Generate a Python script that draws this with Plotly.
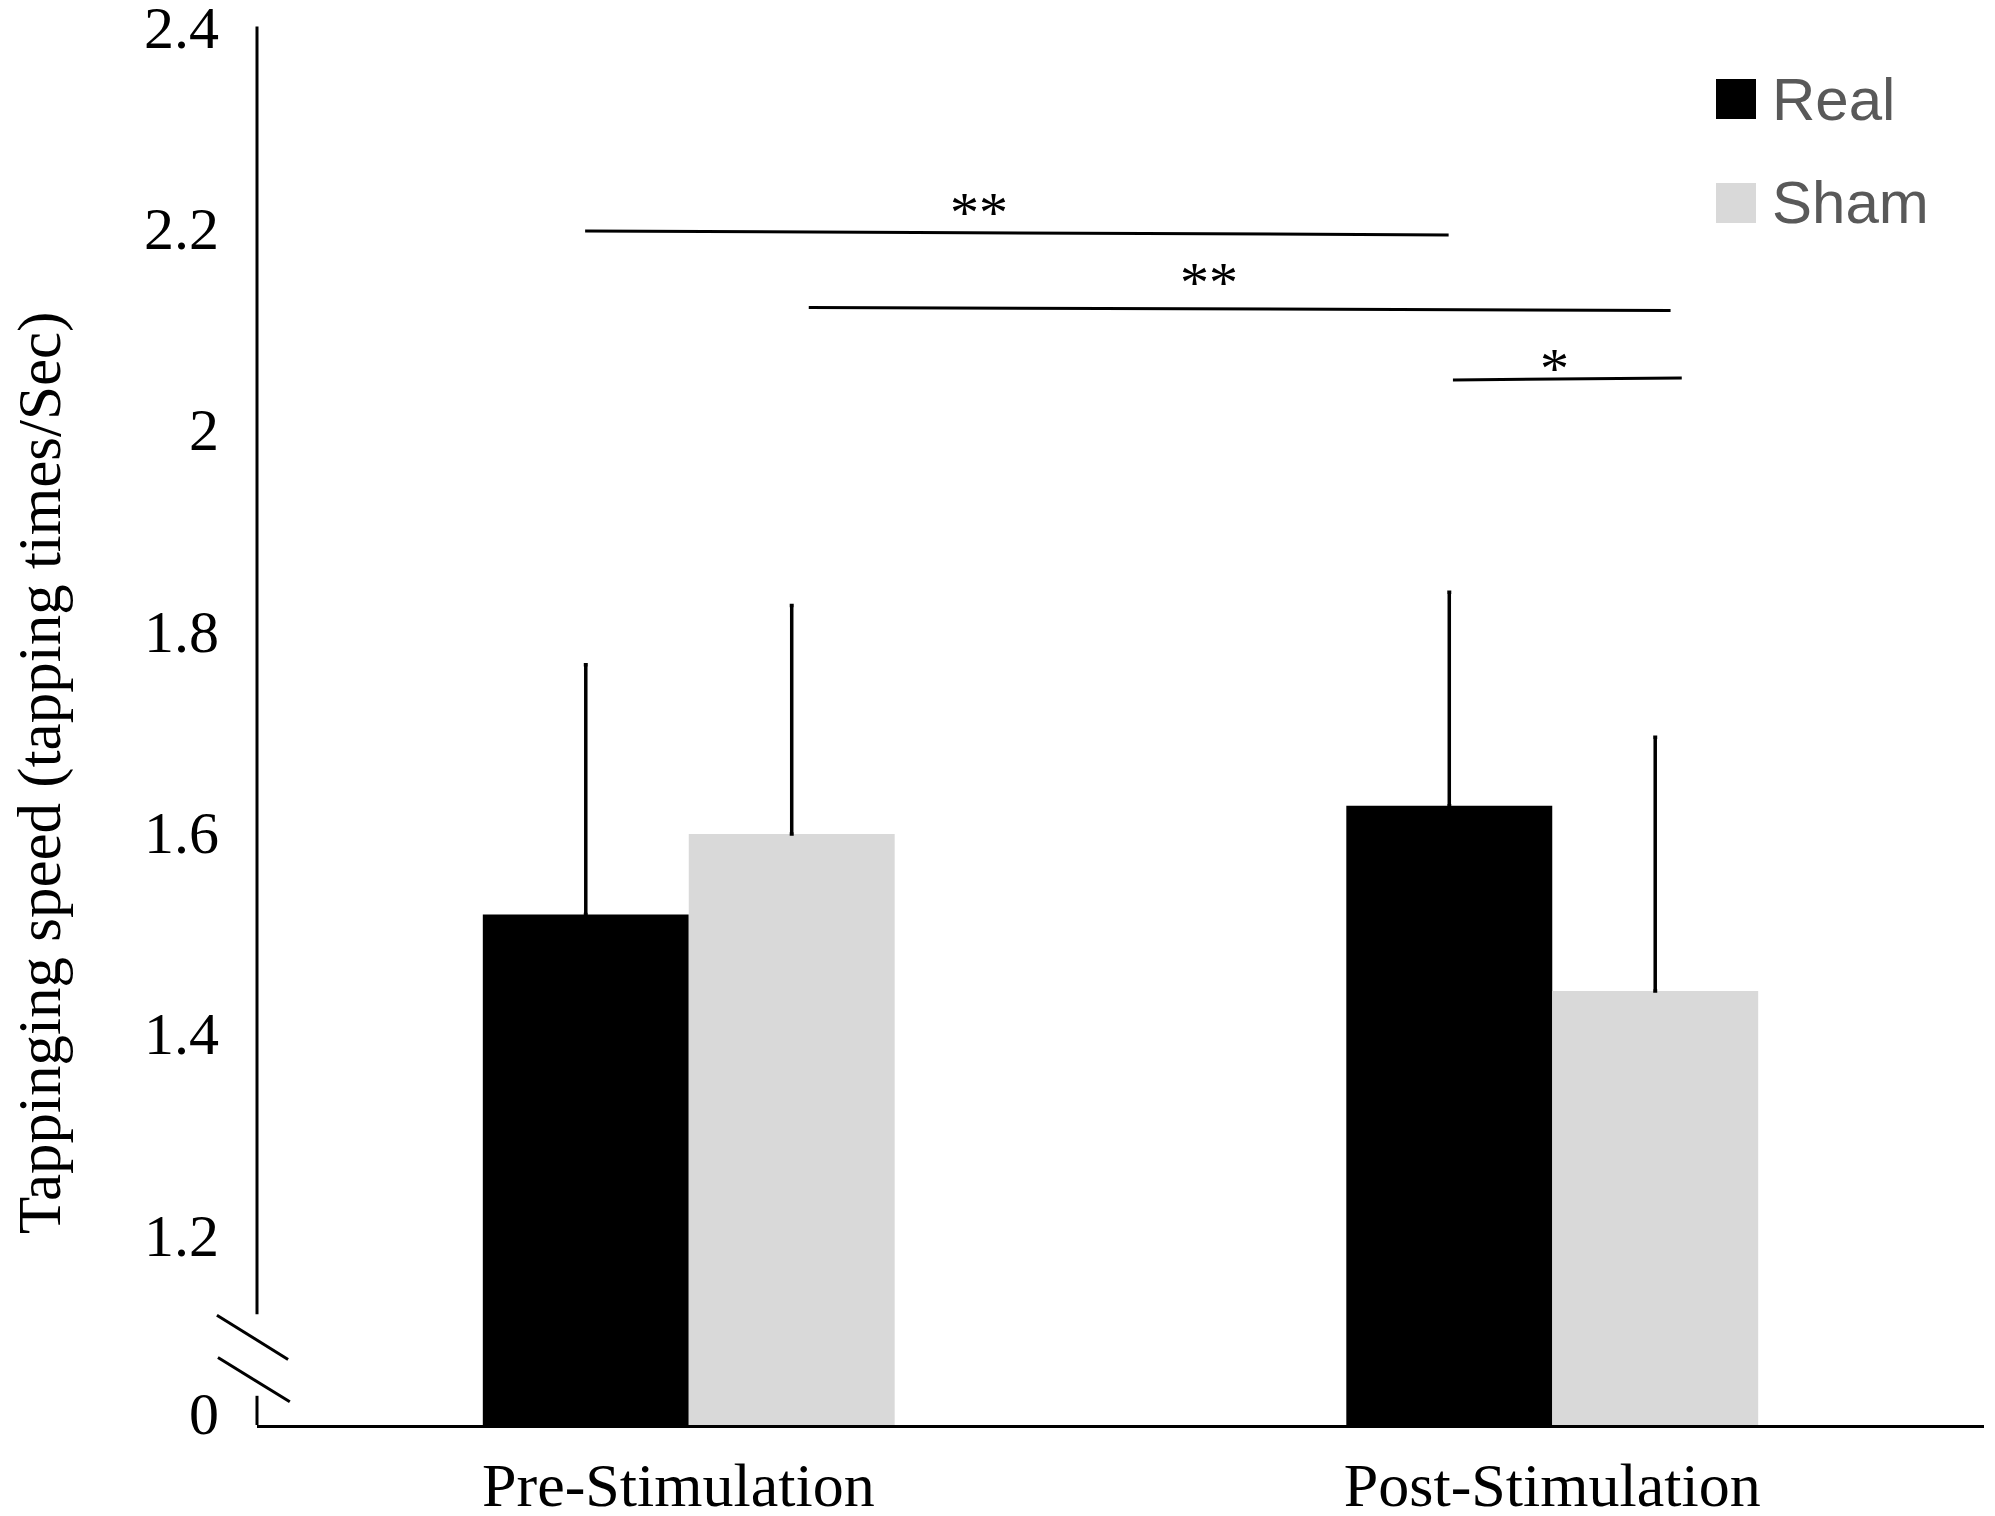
import plotly.graph_objects as go

# ---- data ----
groups = ["Pre-Stimulation", "Post-Stimulation"]
group_x = [0, 1]
real_mean = [1.518, 1.626]
sham_mean = [1.598, 1.442]
real_err = [0.248, 0.212]
sham_err = [0.227, 0.252]
series_names = ["Real", "Sham"]
series_colors = ["#000000", "#d9d9d9"]

# y tick labels (broken axis: the "0" label sits just above the base)
ytick_vals = [1.023, 1.2, 1.4, 1.6, 1.8, 2.0, 2.2, 2.4]
ytick_text = ["0", "1.2", "1.4", "1.6", "1.8", "2", "2.2", "2.4"]

# significance brackets (data coords)
sig_x0 = [-0.120, 0.139, 0.885]
sig_x1 = [0.880, 1.137, 1.150]
sig_y0 = [2.197, 2.121, 2.049]
sig_y1 = [2.193, 2.118, 2.051]
sig_label = ["**", "**", "*"]
sig_label_x = [0.336, 0.602, 1.003]
sig_label_y = [2.223, 2.154, 2.068]

Y_MIN, Y_MAX = 1.011, 2.4
SERIF = "Liberation Serif"
PL, PT, PW, PH = 249, 18, 1727, 1399   # plot area in figure px (page has 8px body margin)
XLABEL_POS = [-0.012, 1.0]             # label anchor positions on the x axis

fig = go.Figure()
for name, color, vals, errs in [
    (series_names[0], series_colors[0], real_mean, real_err),
    (series_names[1], series_colors[1], sham_mean, sham_err),
]:
    fig.add_trace(go.Bar(
        x=group_x, y=vals, name=name,
        marker=dict(color=color, line=dict(width=0)),
        error_y=dict(type="data", symmetric=False, array=errs,
                     arrayminus=[0] * len(errs),
                     color="#000000", thickness=3.5, width=2),
        showlegend=False,
    ))

# y axis line with break
fig.add_shape(type="line", xref="paper", yref="y", x0=0, x1=0, y0=1.121, y1=Y_MAX,
              line=dict(color="black", width=3))
fig.add_shape(type="line", xref="paper", yref="y", x0=0, x1=0, y0=Y_MIN, y1=1.040,
              line=dict(color="black", width=3))
# break marks
fig.add_shape(type="line", xref="paper", yref="y", x0=-0.0232, x1=0.018, y0=1.120, y1=1.076,
              line=dict(color="black", width=3))
fig.add_shape(type="line", xref="paper", yref="y", x0=-0.0226, x1=0.019, y0=1.078, y1=1.034,
              line=dict(color="black", width=3))

# significance lines and stars
for x0, x1, y0, y1 in zip(sig_x0, sig_x1, sig_y0, sig_y1):
    fig.add_shape(type="line", xref="x", yref="y", x0=x0, x1=x1, y0=y0, y1=y1,
                  line=dict(color="black", width=3))
for lab, lx, ly in zip(sig_label, sig_label_x, sig_label_y):
    fig.add_annotation(x=lx, y=ly - 0.008, xref="x", yref="y", text=lab, showarrow=False,
                       font=dict(family=SERIF, size=58, color="black"),
                       xanchor="center", yanchor="middle")

# manual legend (positions in page px, converted to paper fractions)
def px_x(x):
    return (x - 257) / PW

def px_y(y):
    return (1424 - y) / PH

for i, (name, color) in enumerate(zip(series_names, series_colors)):
    cy = [98, 202][i]
    fig.add_shape(type="rect", xref="paper", yref="paper",
                  x0=px_x(1716), x1=px_x(1756),
                  y0=px_y(cy + 20), y1=px_y(cy - 20),
                  fillcolor=color, line=dict(width=0))
    fig.add_annotation(xref="paper", yref="paper",
                       x=px_x(1770), y=px_y(cy),
                       text=name, showarrow=False, xanchor="left", yanchor="middle",
                       font=dict(family="Liberation Sans", size=60, color="#595959"))

# y axis title
fig.add_annotation(xref="paper", yref="paper", x=px_x(40), y=px_y(772),
                   text="Tappinging speed (tapping times/Sec)", textangle=-90,
                   showarrow=False, xanchor="center", yanchor="middle",
                   font=dict(family=SERIF, size=61, color="black"))

fig.update_layout(
    width=1995, height=1516,
    margin=dict(l=PL, r=1995 - PL - PW, t=PT, b=1516 - PT - PH),
    paper_bgcolor="white", plot_bgcolor="white",
    barmode="group", bargap=0.523, bargroupgap=0,
    font=dict(family=SERIF, color="black"),
    xaxis=dict(
        range=[-0.5, 1.5], tickvals=XLABEL_POS, ticktext=groups,
        showline=True, linecolor="black", linewidth=3,
        showgrid=False, zeroline=False, ticks="", automargin=False,
        tickfont=dict(family=SERIF, size=62, color="black"),
        ticklabelstandoff=4, ticklabeloverflow="allow",
    ),
    yaxis=dict(
        range=[Y_MIN, Y_MAX + 0.0005], tickvals=ytick_vals, ticktext=ytick_text,
        showline=False, showgrid=False, zeroline=False, ticks="", automargin=False,
        tickfont=dict(family=SERIF, size=60, color="black"),
        ticklabelstandoff=37, ticklabeloverflow="allow",
    ),
)

fig.write_html("out.html")
